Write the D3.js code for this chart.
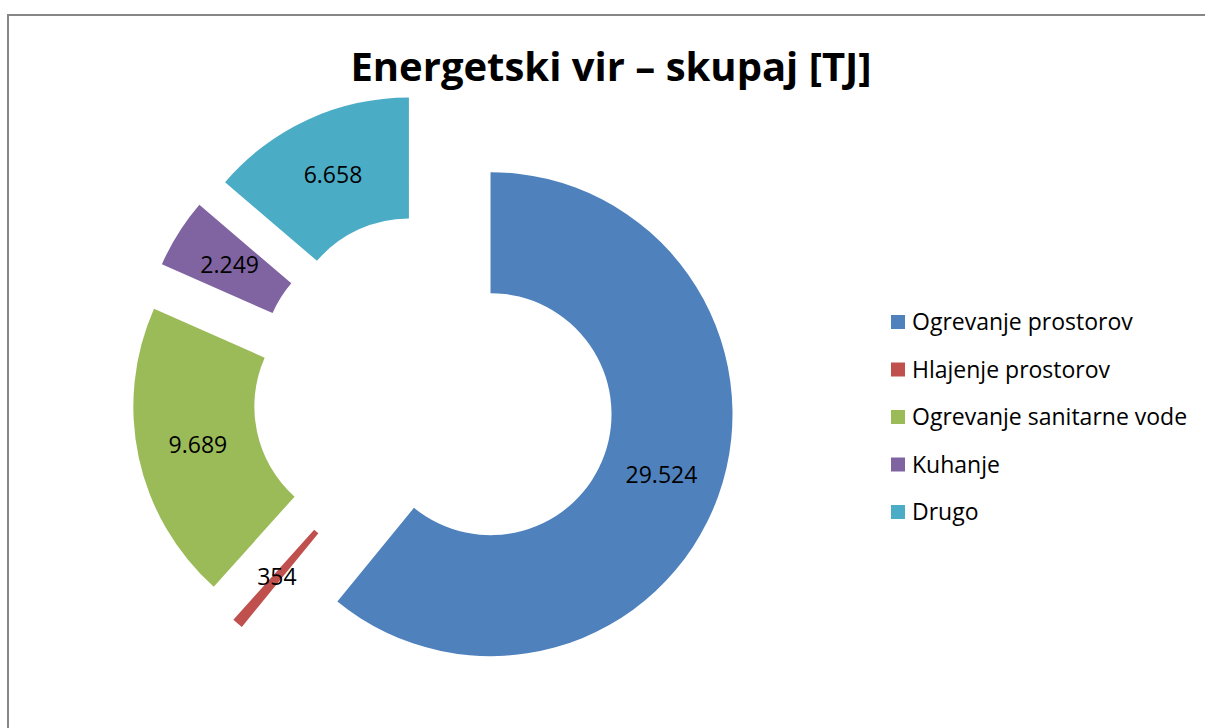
<!DOCTYPE html>
<html>
<head>
<meta charset="utf-8">
<script src="https://cdn.jsdelivr.net/npm/d3@7"></script>
<style>
  body { margin: 0; background: #fff; }
  svg { display: block; font-family: "Open Sans", sans-serif; }
</style>
</head>
<body>
<svg id="chart" width="1205" height="728"></svg>
<script>
// data
const categories = ["Ogrevanje prostorov", "Hlajenje prostorov", "Ogrevanje sanitarne vode", "Kuhanje", "Drugo"];
const values = [29524, 354, 9689, 2249, 6658];
const valueLabels = ["29.524", "354", "9.689", "2.249", "6.658"];
const colors = ["#4F81BD", "#C0504D", "#9BBB59", "#8064A2", "#4BACC6"];

const svg = d3.select("#chart");

// outer frame (runs off the right and bottom edge)
svg.append("rect")
    .attr("x", 8).attr("y", 15)
    .attr("width", 1220).attr("height", 740)
    .attr("fill", "none")
    .attr("stroke", "#868686")
    .attr("stroke-width", 2);

svg.append("text")
    .attr("x", 611).attr("y", 81)
    .attr("text-anchor", "middle")
    .attr("font-size", 40)
    .attr("font-weight", "bold")
    .text("Energetski vir – skupaj [TJ]");

const cx = 434, cy = 394;
const outerR = 242, innerR = 121;
const explode = 60;

const pie = d3.pie().sort(null).value(d => d.value);
const arc = d3.arc().innerRadius(innerR).outerRadius(outerR);

const data = categories.map((c, i) => ({ name: c, value: values[i], label: valueLabels[i], color: colors[i] }));

const g = svg.append("g").attr("transform", `translate(${cx},${cy})`);

// every slice pushed out along its own mid angle
const slices = g.selectAll("g.slice")
    .data(pie(data))
    .enter()
    .append("g")
    .attr("class", "slice")
    .attr("transform", d => {
        const a = (d.startAngle + d.endAngle) / 2;
        return `translate(${Math.sin(a) * explode},${-Math.cos(a) * explode})`;
    });

slices.append("path")
    .attr("d", arc)
    .attr("fill", d => d.data.color);

slices.append("text")
    .attr("transform", d => `translate(${arc.centroid(d)})`)
    .attr("text-anchor", "middle")
    .attr("dy", "0.35em")
    .attr("font-size", 23)
    .attr("fill", "#000")
    .text(d => d.data.label);

// legend
const legend = svg.append("g").attr("transform", "translate(891,322)");
const rowH = 47.5;
const items = legend.selectAll("g")
    .data(data)
    .enter()
    .append("g")
    .attr("transform", (d, i) => `translate(0,${i * rowH})`);

items.append("rect")
    .attr("x", 0).attr("y", -7)
    .attr("width", 14).attr("height", 14)
    .attr("fill", d => d.color);

items.append("text")
    .attr("x", 21)
    .attr("dy", "0.35em")
    .attr("font-size", 23)
    .text(d => d.name);
</script>
</body>
</html>
